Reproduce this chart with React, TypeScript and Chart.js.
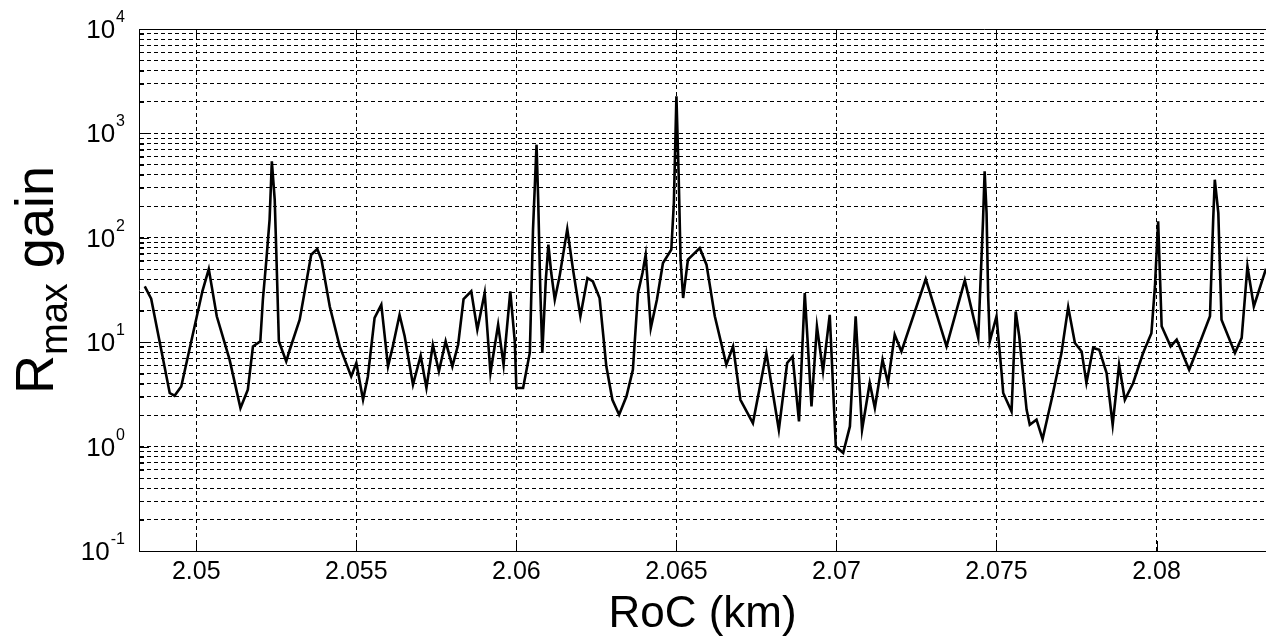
import React, { useEffect, useRef } from 'react';
import { Chart, registerables } from 'chart.js';

Chart.register(...registerables);

// RoC (km) of each traced vertex
const roc: number[] = [
  2.04839, 2.04859, 2.04917, 2.04932, 2.04953, 2.05019, 2.05039, 2.05064, 2.05104, 2.05138,
  2.05161, 2.05177, 2.05200, 2.05208, 2.05219, 2.05229, 2.05236, 2.05245, 2.05250, 2.05258,
  2.05281, 2.05292, 2.05323, 2.05359, 2.05378, 2.05391, 2.05417, 2.05448, 2.05484, 2.05500,
  2.05521, 2.05536, 2.05557, 2.05578, 2.05599, 2.05614, 2.05635, 2.05651, 2.05677, 2.05701,
  2.05719, 2.05739, 2.05758, 2.05779, 2.05800, 2.05818, 2.05835, 2.05859, 2.05878, 2.05901,
  2.05919, 2.05943, 2.05960, 2.05981, 2.05995, 2.06000, 2.06021, 2.06042, 2.06052, 2.06063,
  2.06068, 2.06075, 2.06081, 2.06092, 2.06100, 2.06109, 2.06120, 2.06135, 2.06159, 2.06177,
  2.06200, 2.06222, 2.06239, 2.06260, 2.06281, 2.06300, 2.06321, 2.06344, 2.06364, 2.06380,
  2.06394, 2.06404, 2.06420, 2.06439, 2.06458, 2.06484, 2.06492, 2.06500, 2.06507, 2.06513,
  2.06521, 2.06536, 2.06573, 2.06594, 2.06620, 2.06656, 2.06677, 2.06700, 2.06739, 2.06781,
  2.06820, 2.06846, 2.06863, 2.06883, 2.06901, 2.06922, 2.06939, 2.06958, 2.06979, 2.06998,
  2.07021, 2.07042, 2.07060, 2.07080, 2.07104, 2.07120, 2.07144, 2.07161, 2.07182, 2.07203,
  2.07279, 2.07344, 2.07401, 2.07443, 2.07458, 2.07463, 2.07469, 2.07474, 2.07479, 2.07500,
  2.07516, 2.07521, 2.07547, 2.07560, 2.07571, 2.07594, 2.07604, 2.07625, 2.07644, 2.07672,
  2.07703, 2.07724, 2.07745, 2.07766, 2.07781, 2.07802, 2.07821, 2.07844, 2.07863, 2.07883,
  2.07901, 2.07927, 2.07958, 2.07984, 2.07995, 2.08005, 2.08016, 2.08044, 2.08063, 2.08102,
  2.08135, 2.08167, 2.08177, 2.08182, 2.08193, 2.08203, 2.08245, 2.08266, 2.08284, 2.08304,
  2.08342,
];

// R_max gain at each vertex
const gain: number[] = [
  34.2, 26.1, 3.26, 3.07, 3.77, 30.7, 50.2, 17.7, 6.80, 2.34,
  3.51, 9.12, 10.2, 25.5, 61.7, 149, 539, 232, 72.0, 10.2,
  6.55, 8.47, 16.4, 68.9, 78.1, 61.7, 22.0, 9.12, 4.70, 6.32,
  2.81, 4.70, 17.1, 22.9, 5.87, 9.12, 18.3, 11.4, 3.92, 7.43,
  3.64, 9.46, 5.25, 10.2, 5.87, 9.46, 25.9, 30.7, 13.2, 29.6,
  5.07, 14.7, 6.09, 30.7, 10.2, 3.64, 3.64, 7.93, 120, 780,
  240, 29.6, 7.88, 39.7, 85.9, 46.0, 25.5, 42.7, 121, 49.5,
  17.7, 41.2, 38.2, 26.5, 5.87, 2.81, 2.02, 3.03, 5.45, 29.6,
  46.0, 68.9, 13.7, 25.5, 57.4, 76.9, 215, 2262, 402, 61.7,
  26.5, 61.7, 79.9, 55.3, 17.7, 6.09, 9.12, 2.81, 1.68, 7.88,
  1.45, 6.32, 7.31, 1.74, 29.6, 2.43, 14.2, 5.25, 18.3, 1.00,
  0.87, 1.56, 17.7, 1.45, 4.07, 2.34, 6.80, 4.07, 11.8, 8.16,
  40.3, 9.12, 39.1, 11.0, 149, 433, 173, 27.5, 10.2, 17.7,
  5.07, 3.26, 2.17, 19.7, 11.4, 2.26, 1.62, 1.81, 1.18, 2.81,
  7.88, 21.7, 9.82, 8.16, 4.07, 8.80, 8.47, 5.07, 1.62, 6.09,
  2.81, 4.07, 7.88, 12.2, 34.2, 144, 14.2, 9.12, 10.6, 5.45,
  9.82, 17.7, 149, 360, 173, 16.4, 7.88, 11.0, 53.2, 22.0,
  50.6,
];

const xTickValues: number[] = [2.05, 2.055, 2.06, 2.065, 2.07, 2.075, 2.08];
const xTickLabels: string[] = ['2.05', '2.055', '2.06', '2.065', '2.07', '2.075', '2.08'];
const yDecadeExponents: number[] = [-1, 0, 1, 2, 3, 4];
const yDecadeLabels: string[] = ['-1', '0', '1', '2', '3', '4'];
const xRange: number[] = [2.04821, 2.08342];
const yRange: number[] = [0.1, 10000];
const xTitle = 'RoC (km)';
const yTitleMain = 'R';
const yTitleSub = 'max';
const yTitleRest = ' gain';

const FONT = '"Liberation Sans", Arial, Helvetica, sans-serif';

function buildYTicks(): { value: number }[] {
  const out: { value: number }[] = [];
  for (let k = -1; k <= 3; k++) {
    for (let m = 1; m <= 9; m++) out.push({ value: +(m * Math.pow(10, k)).toPrecision(3) });
  }
  out.push({ value: 10000 });
  return out;
}

const decorPlugin = {
  id: 'matlabDecor',
  afterDraw(chart: any) {
    const ctx: CanvasRenderingContext2D = chart.ctx;
    const xs = chart.scales.x;
    const ys = chart.scales.y;
    const a = chart.chartArea;
    ctx.save();
    ctx.strokeStyle = '#000';
    ctx.lineWidth = 1;
    // top box line
    ctx.beginPath();
    ctx.moveTo(a.left, a.top + 0.5);
    ctx.lineTo(a.right, a.top + 0.5);
    ctx.stroke();
    // x tick marks (inside, bottom and top)
    xTickValues.forEach((v) => {
      const px = Math.round(xs.getPixelForValue(v)) + 0.5;
      ctx.beginPath();
      ctx.moveTo(px, a.bottom);
      ctx.lineTo(px, a.bottom - 10);
      ctx.moveTo(px, a.top);
      ctx.lineTo(px, a.top + 10);
      ctx.stroke();
    });
    // y tick marks
    ys.ticks.forEach((t: any) => {
      const py = Math.round(ys.getPixelForValue(t.value)) + 0.5;
      const lg = Math.log10(t.value);
      const major = Math.abs(lg - Math.round(lg)) < 1e-6;
      ctx.beginPath();
      ctx.moveTo(a.left, py);
      ctx.lineTo(a.left + (major ? 10 : 5), py);
      ctx.stroke();
    });
    ctx.fillStyle = '#000';
    // x tick labels
    ctx.font = `25px ${FONT}`;
    ctx.textAlign = 'center';
    ctx.textBaseline = 'middle';
    xTickValues.forEach((v, i) => {
      ctx.fillText(xTickLabels[i], xs.getPixelForValue(v), a.bottom + 21);
    });
    // y tick labels 10^k
    yDecadeExponents.forEach((k, i) => {
      const py = ys.getPixelForValue(Math.pow(10, k));
      ctx.font = `16px ${FONT}`;
      const ew = ctx.measureText(yDecadeLabels[i]).width;
      const right = a.left - 14;
      ctx.textAlign = 'left';
      ctx.textBaseline = 'alphabetic';
      ctx.fillText(yDecadeLabels[i], right - ew, py - 7);
      ctx.font = `26px ${FONT}`;
      ctx.textAlign = 'right';
      ctx.fillText('10', right - ew - 1, py + 9);
    });
    // x title
    ctx.font = `44px ${FONT}`;
    ctx.textAlign = 'center';
    ctx.textBaseline = 'alphabetic';
    ctx.fillText(xTitle, (a.left + a.right) / 2, 627);
    // y title (rotated)
    ctx.translate(53, 280);
    ctx.rotate(-Math.PI / 2);
    ctx.textAlign = 'left';
    ctx.font = `54px ${FONT}`;
    const wR = ctx.measureText(yTitleMain).width;
    const wG = ctx.measureText(yTitleRest).width;
    ctx.font = `38px ${FONT}`;
    const wM = ctx.measureText(yTitleSub).width;
    let sx = -(wR + wM + wG) / 2;
    ctx.font = `54px ${FONT}`;
    ctx.fillText(yTitleMain, sx, 0);
    sx += wR;
    ctx.font = `38px ${FONT}`;
    ctx.fillText(yTitleSub, sx, 14);
    sx += wM;
    ctx.font = `54px ${FONT}`;
    ctx.fillText(yTitleRest, sx, 0);
    ctx.restore();
  },
};

export default function App() {
  const ref = useRef<HTMLCanvasElement>(null);
  useEffect(() => {
    const canvas = ref.current;
    if (!canvas) return;
    const points = roc.map((x, i) => ({ x, y: gain[i] }));
    const chart = new Chart(canvas, {
      type: 'scatter',
      data: {
        datasets: [
          {
            data: points,
            showLine: true,
            borderColor: '#000',
            backgroundColor: '#000',
            borderWidth: 2.6,
            pointRadius: 0,
            tension: 0,
            fill: false,
          },
        ],
      },
      options: {
        animation: false,
        responsive: false,
        devicePixelRatio: 1,
        layout: { padding: { top: 29, right: 0, left: 0, bottom: 0 } },
        plugins: { legend: { display: false }, tooltip: { enabled: false } },
        scales: {
          x: {
            type: 'linear',
            min: xRange[0],
            max: xRange[1],
            afterBuildTicks: (s: any) => {
              s.ticks = xTickValues.map((v) => ({ value: v }));
            },
            afterFit: (s: any) => {
              s.height = 86;
            },
            ticks: { display: false },
            grid: { color: '#000', lineWidth: 1, drawTicks: false },
            border: { display: true, color: '#000', width: 1, dash: [4, 3] },
          },
          y: {
            type: 'logarithmic',
            min: yRange[0],
            max: yRange[1],
            afterBuildTicks: (s: any) => {
              s.ticks = buildYTicks();
            },
            afterFit: (s: any) => {
              s.width = 139;
            },
            ticks: { display: false },
            grid: { color: '#000', lineWidth: 1, drawTicks: false },
            border: { display: true, color: '#000', width: 1, dash: [4, 3] },
          },
        },
      },
      plugins: [decorPlugin],
    } as any);
    return () => chart.destroy();
  }, []);
  return (
    <div style={{ position: 'fixed', left: 0, top: 0, width: 1266, height: 637, background: '#fff' }}>
      <canvas ref={ref} width={1266} height={637} style={{ display: 'block', width: 1266, height: 637 }} />
    </div>
  );
}
